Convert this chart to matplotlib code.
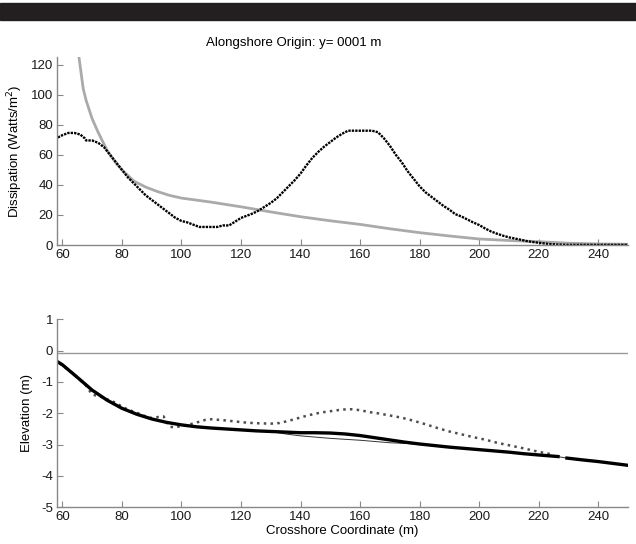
import numpy as np
import matplotlib
matplotlib.use("Agg")
import matplotlib.pyplot as plt
from matplotlib.patches import Rectangle

plt.rcParams['font.family'] = ['Liberation Sans', 'DejaVu Sans']
plt.rcParams['axes.unicode_minus'] = False

# --- top panel: wave energy dissipation ---
diss_x = [58.5, 60, 62, 64, 66, 67.5, 68, 70, 72, 74, 76, 78, 80, 82, 84, 86, 88, 90,
          92, 94, 96, 98, 100, 102, 104, 106, 108, 110, 112, 114, 116, 118, 120, 122,
          124, 126, 128, 130, 132, 134, 136, 138, 140, 142, 144, 146, 148, 150, 152,
          154, 156, 158, 160, 162, 164, 166, 168, 170, 172, 174, 176, 178, 180, 182,
          184, 186, 188, 190, 192, 194, 196, 198, 200, 202, 204, 206, 208, 210, 212,
          214, 216, 218, 220, 222, 224, 226, 228, 230, 235, 240, 245, 250]
diss_obs = [71.5, 73, 74.5, 74.5, 73.5, 71, 69.5, 69.5, 68, 65, 60, 55, 50, 45, 41, 37,
            33, 30, 27, 24, 21, 18, 16, 15, 13.5, 12, 12, 12, 12, 13, 13, 15.5, 18, 19.5,
            21, 23, 25.5, 28, 31, 35, 39, 43, 47.5, 53, 58, 62, 65.5, 68.5, 71.5, 74, 76,
            76, 76, 76, 76, 75, 71, 66, 60, 55, 49, 44, 39, 35, 32, 29, 26, 23.5, 20.5,
            19, 17, 15, 13.3, 11, 9, 7.5, 6.2, 5.1, 4.3, 3.5, 2.6, 2, 1.5, 1, 0.6, 0.3,
            0.2, 0.1, 0.1, 0.1, 0.1, 0.1]

model_x = [65.5, 67, 68, 70, 72, 75, 78, 80, 84, 88, 92, 96, 100, 110, 120, 130, 140,
           150, 160, 170, 180, 190, 200, 210, 220, 230, 240, 250]
diss_model = [126, 104, 96, 84, 75, 63, 54.5, 50, 42.5, 38.5, 35.5, 33, 31.2, 28.5, 25.4,
              22, 18.8, 16.1, 13.7, 10.8, 8.2, 6, 4, 3, 2.2, 1.2, 0.7, 0.5]

# --- bottom panel: bathymetry ---
bed_x = [58.3, 60, 65, 70, 75, 80, 85, 90, 95, 100, 105, 110, 115, 120, 125, 130, 135,
         140, 145, 150, 155, 160, 165, 170, 175, 180, 185, 190, 195, 200, 205, 210, 215,
         220, 226.5, 227.5, 229.5, 235, 240, 245, 250]
bed_thick = [-0.35, -0.45, -0.85, -1.26, -1.58, -1.84, -2.03, -2.18, -2.29, -2.37, -2.43,
             -2.47, -2.5, -2.53, -2.56, -2.58, -2.6, -2.62, -2.62, -2.63, -2.66, -2.71,
             -2.78, -2.85, -2.92, -2.98, -3.03, -3.08, -3.12, -3.16, -3.2, -3.24, -3.29,
             -3.33, -3.38, np.nan, -3.43, -3.49, -3.54, -3.6, -3.66]
bed_thin = [-0.35, -0.45, -0.85, -1.26, -1.58, -1.84, -2.03, -2.18, -2.29, -2.37, -2.43,
            -2.47, -2.5, -2.53, -2.56, -2.58, -2.66, -2.72, -2.76, -2.8, -2.83, -2.86,
            -2.9, -2.94, -2.96, -2.99, -3.03, -3.08, -3.12, -3.16, -3.2, -3.24, -3.29,
            -3.33, -3.38, -3.4, -3.43, -3.49, -3.54, -3.6, -3.66]

surv_x = [59, 62, 65, 68, 70, 72, 74, 76, 78, 80, 82, 84, 86, 88, 90, 92, 94, 96, 98,
          100, 102, 104, 106, 108, 110, 114, 118, 122, 126, 130, 133, 136, 139, 142, 145,
          148, 151, 154, 157, 160, 163, 166, 170, 174, 178, 182, 186, 190, 194, 198, 202,
          206, 210, 215, 220, 225]
surv_z = [-0.4, -0.62, -0.85, -1.12, -1.4, -1.45, -1.5, -1.6, -1.66, -1.79, -1.88, -1.95,
          -2.02, -2.1, -2.15, -2.12, -2.1, -2.43, -2.45, -2.4, -2.38, -2.32, -2.27, -2.21,
          -2.19, -2.22, -2.26, -2.3, -2.32, -2.33, -2.31, -2.24, -2.16, -2.08, -2.01,
          -1.96, -1.92, -1.88, -1.87, -1.9, -1.96, -2.0, -2.07, -2.14, -2.24, -2.35,
          -2.47, -2.58, -2.67, -2.76, -2.84, -2.94, -3.02, -3.12, -3.23, -3.32]

water_level = -0.07

W, H = 636, 544
fig = plt.figure(figsize=(W / 100, H / 100), dpi=100)

# black banner across the top
fig.patches.append(Rectangle((0, 1 - 20 / H), 1, 17 / H, transform=fig.transFigure,
                             color='#231f20', zorder=0))

ax1 = fig.add_axes([57.3 / W, (H - 245) / H, (628 - 57.3) / W, 188 / H])
ax2 = fig.add_axes([57.3 / W, (H - 507.3) / H, (628 - 57.3) / W, 188 / H])

ax1.plot(model_x, diss_model, color='#aaaaaa', lw=2.0, solid_capstyle='butt')
ax1.plot(diss_x, diss_obs, color='black', lw=1.7, linestyle=(0, (1, 0.45)))
ax1.set_ylim(0, 125)
ax1.set_yticks(range(0, 121, 20))
ax1.set_ylabel('Dissipation (Watts/m$^2$)', fontsize=9.5, labelpad=4)

ax2.axhline(water_level, color='#999999', lw=1.0)
ax2.plot(surv_x, surv_z, color='#4d4d4d', lw=1.8, linestyle=(0, (1, 1.7)))
ax2.plot(bed_x, bed_thin, color='#333333', lw=0.7)
ax2.plot(bed_x, bed_thick, color='black', lw=2.4)
ax2.set_ylim(-5, 1)
ax2.set_yticks(range(-5, 2))
ax2.set_ylabel('Elevation (m)', fontsize=9.5, labelpad=6)
ax2.set_xlabel('Crosshore Coordinate (m)', fontsize=9.5, labelpad=1)

for ax in (ax1, ax2):
    ax.set_xlim(58.3, 250)
    ax.set_xticks(range(60, 241, 20))
    for side in ('top', 'right'):
        ax.spines[side].set_visible(False)
    for side in ('left', 'bottom'):
        ax.spines[side].set_color('#888888')
        ax.spines[side].set_linewidth(1.0)
    ax.tick_params(direction='in', length=4, width=0.8, color='#888888',
                   labelsize=9.5, labelcolor='#1a1a1a', pad=3)

fig.text(294 / W, 1 - 43 / H, 'Alongshore Origin: y= 0001 m', ha='center', va='center',
         fontsize=9.5)

fig.savefig('out.png', dpi=100)
